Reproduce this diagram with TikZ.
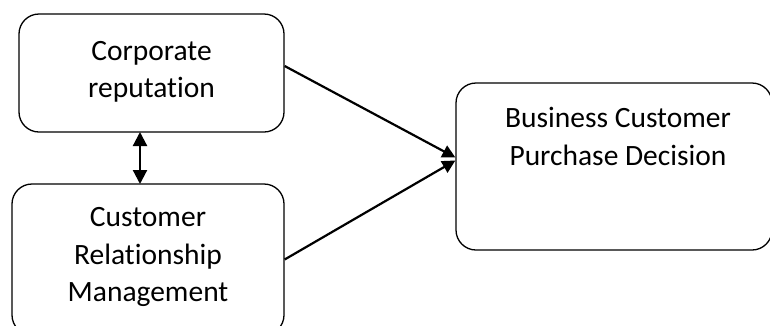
\documentclass[tikz,border=0pt]{standalone}
\usepackage{fontspec}
\setmainfont{Carlito}[Ligatures=NoCommon]
\usepackage{tikz}
\usetikzlibrary{arrows.meta}

\begin{document}
\begin{tikzpicture}[x=1pt,y=-1pt,
    box/.style={draw,line width=1.3pt,rounded corners=20pt,inner sep=0pt},
    txt/.style={align=center,font=\fontsize{29.5}{37.5}\selectfont},
    link/.style={line width=2.2pt,-{Triangle[length=13pt,width=13pt]}}]
    \clip (0,0) rectangle (770,325);
    \node[box,minimum width=265pt,minimum height=118pt] (A) at (151.5,73) {};
    \node[box,minimum width=272pt,minimum height=151pt] (B) at (148,259.5) {};
    \node[box,minimum width=316pt,minimum height=167pt] (C) at (614,166.5) {};
    \node[txt] (At) at (151.5,72) {Corporate\\reputation};
    \node[txt] (Bt) at (148,257) {Customer\\Relationship\\Management};
    \node[txt] (Ct) at (618,136.5) {Business Customer\\Purchase Decision};
    \draw[line width=2.2pt,{Triangle[length=14pt,width=14pt]}-{Triangle[length=14pt,width=14pt]}] (140,132) coordinate (ab) -- (140,184) coordinate (ba);
    \draw[link] ([yshift=7pt]A.east) -- ([yshift=9pt]C.west);
    \draw[link] (B.east) -- ([yshift=6pt]C.west);
  \end{tikzpicture}
\end{document}
